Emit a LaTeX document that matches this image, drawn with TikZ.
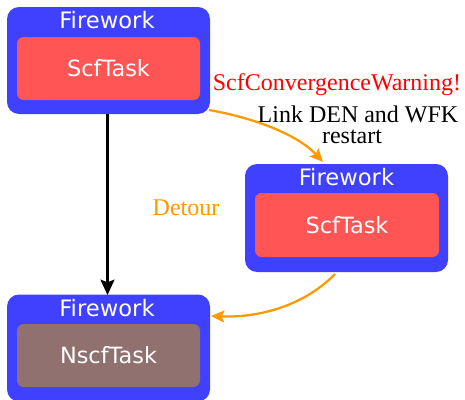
\documentclass[tikz,border=0pt]{standalone}
\usepackage{fontspec}
\setmainfont{Liberation Serif}
\newfontfamily\boxfont{DejaVu Sans}
\usetikzlibrary{arrows.meta}
\definecolor{fwblue}{RGB}{64,64,255}
\definecolor{taskred}{RGB}{255,85,85}
\definecolor{taskbrown}{RGB}{145,113,111}
\definecolor{detorange}{RGB}{255,153,0}
\definecolor{warnred}{RGB}{255,0,0}
\tikzset{
  fwbox/.style={fill=fwblue, draw=none, rounded corners=9pt, minimum width=152.25pt, minimum height=80.25pt, inner sep=0pt},
  taskbox/.style={draw=none, rounded corners=5pt, minimum width=137.25pt, minimum height=47.25pt, inner sep=0pt, text=white, font=\boxfont\fontsize{16.8}{18}\selectfont},
  fwlabel/.style={text=white, font=\boxfont\fontsize{17}{18}\selectfont, inner sep=0pt},
  serlabel/.style={font=\fontsize{18}{15}\selectfont, inner sep=0pt},
  blackarrow/.style={-{Stealth[length=11.5pt,width=10.5pt,inset=2pt]}, line width=1.8pt},
  orangearrow/.style={-{Stealth[length=10pt,width=9pt,inset=2pt]}, line width=1.7pt, draw=detorange}
}
\begin{document}
\begin{tikzpicture}[x=0.75pt,y=-0.75pt]
\useasboundingbox (0,0) rectangle (465,400);
% Firework 1
\node[fwbox] (fw1) at (108.5,60.5) {};
\node[fwlabel] (fw1l) at (107,20) {Firework};
\node[taskbox, fill=taskred] (t1) at (108.5,68.5) {ScfTask};
% Firework 2
\node[fwbox, minimum height=81pt] (fw2) at (346.5,218) {};
\node[fwlabel] (fw2l) at (346.5,177) {Firework};
\node[taskbox, fill=taskred, minimum width=138pt, minimum height=48pt] (t2) at (347,225) {ScfTask};
% Firework 3
\node[fwbox] (fw3) at (108.5,348) {};
\node[fwlabel] (fw3l) at (107,308) {Firework};
\node[taskbox, fill=taskbrown] (t3) at (108.5,355.5) {NscfTask};
% labels
\node[serlabel, text=warnred] (warn) at (337,85) {ScfConvergenceWarning!};
\node[serlabel] (link) at (358,114) {Link DEN and WFK};
\node[serlabel] (rest) at (352,136.5) {restart};
\node[serlabel, text=detorange] (det) at (186,208) {Detour};
% connector end points
\coordinate (a1s) at (209,110);
\coordinate (a1e) at (323,162);
\coordinate (a2s) at (335,274);
\coordinate (a2e) at (211,316);
\coordinate (bs) at (107.5,114);
\coordinate (be) at (107.5,295);
% arrows
\draw[blackarrow] (bs) -- (be);
\draw[orangearrow] (a1s) .. controls (255,118) and (298,135) .. (a1e);
\draw[orangearrow] (a2s) .. controls (305,305) and (260,318) .. (a2e);
\end{tikzpicture}
\end{document}
